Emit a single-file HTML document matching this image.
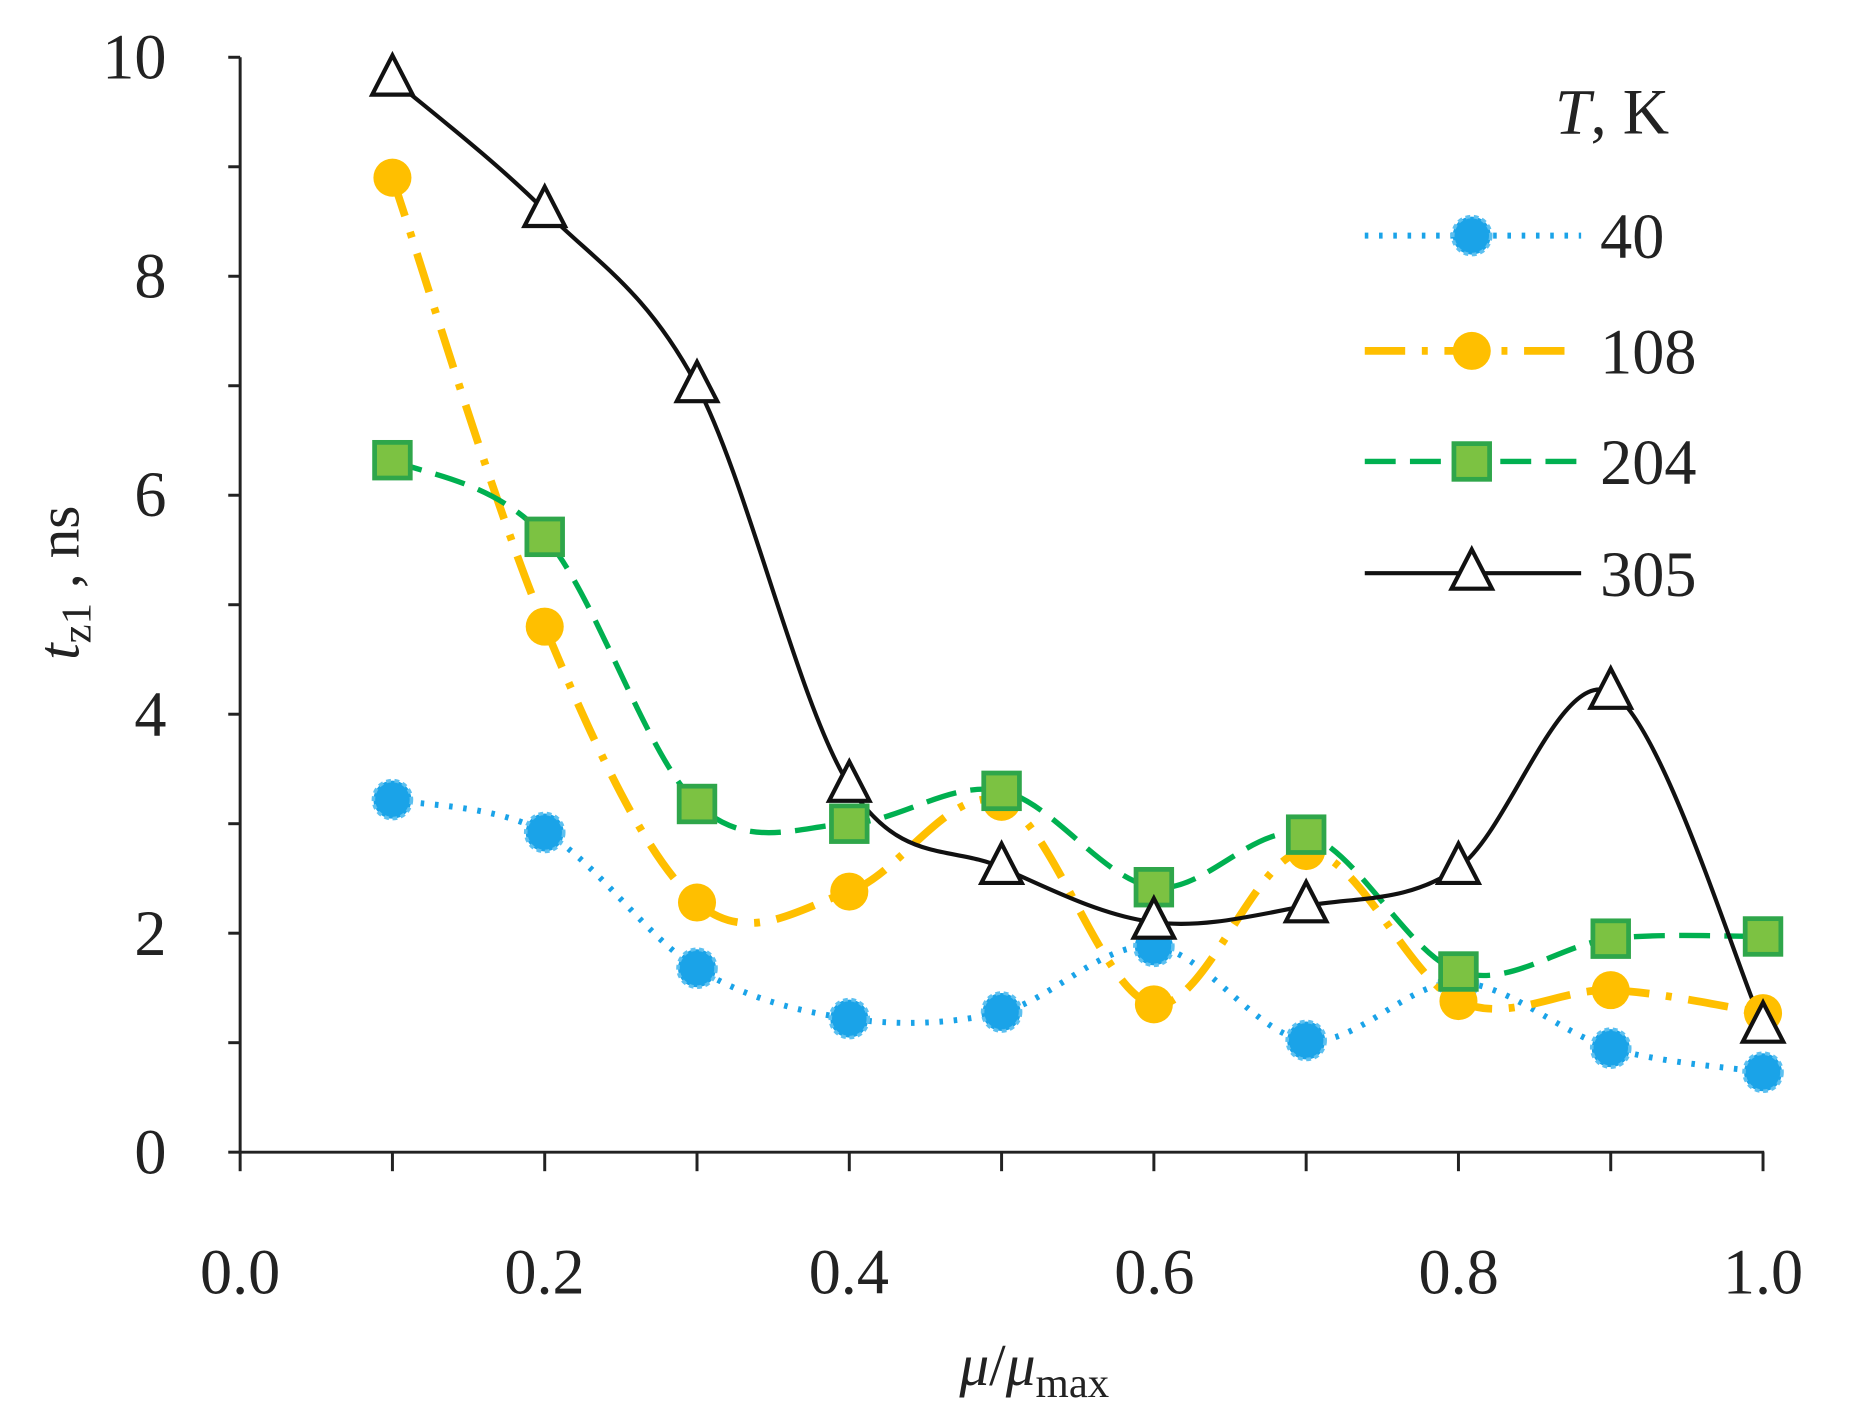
<!DOCTYPE html>
<html><head><meta charset="utf-8"><style>
html,body{margin:0;padding:0;background:#fff;}
svg{display:block;}
text{font-family:"Liberation Serif",serif;fill:#222;}
</style></head><body>
<svg id="s" width="1851" height="1427" viewBox="0 0 1557 1200" xmlns="http://www.w3.org/2000/svg">
<rect width="1557" height="1200" fill="#fff"/>
<g stroke="#222" stroke-width="2.5" fill="none">
<line x1="202" y1="48" x2="202" y2="969"/>
<line x1="202" y1="969" x2="1484" y2="969"/>
</g>
<g id="ticks" stroke="#222" stroke-width="2.5"></g>
<g font-size="54" text-anchor="end">
<text x="140" y="987">0</text>
<text x="140" y="803">2</text>
<text x="140" y="619">4</text>
<text x="140" y="434">6</text>
<text x="140" y="250">8</text>
<text x="140" y="66">10</text>
</g>
<g font-size="54" text-anchor="middle">
<text x="202" y="1088">0.0</text>
<text x="458" y="1088">0.2</text>
<text x="714" y="1088">0.4</text>
<text x="971" y="1088">0.6</text>
<text x="1227" y="1088">0.8</text>
<text x="1483" y="1088">1.0</text>
</g>
<text x="870" y="1165" font-size="50" text-anchor="middle"><tspan font-style="italic">μ</tspan>/<tspan font-style="italic">μ</tspan><tspan font-size="36" dy="10">max</tspan></text>
<text transform="translate(66,490) rotate(-90)" font-size="50" text-anchor="middle"><tspan font-style="italic">t</tspan><tspan font-size="36" dy="10">z1</tspan><tspan dy="-10"> , ns</tspan></text>
<g id="series"></g>
<g id="legend"></g>
<text x="1308" y="112" font-size="54"><tspan font-style="italic">T</tspan>, K</text>
<g font-size="54">
<text x="1346" y="217">40</text>
<text x="1346" y="314">108</text>
<text x="1346" y="407">204</text>
<text x="1346" y="501">305</text>
</g>
</svg>
<script>
var NS="http://www.w3.org/2000/svg";
function X(v){return 202+v*1281;}
function Y(v){return 969-v*92.1;}
function el(t,a,p){var e=document.createElementNS(NS,t);for(var k in a)e.setAttribute(k,a[k]);p.appendChild(e);return e;}
var tk=document.getElementById('ticks');
for(var i=0;i<=10;i++){el('line',{x1:192,x2:202,y1:Y(i),y2:Y(i)},tk);}
for(var i=0;i<=10;i++){el('line',{x1:X(i/10),x2:X(i/10),y1:969,y2:985},tk);}
var xs=[.1,.2,.3,.4,.5,.6,.7,.8,.9,1];
var S=[
{d:[3.22,2.92,1.68,1.22,1.28,1.88,1.02,1.55,0.95,0.73],c:"#1aa3e8",da:"3 9",w:5,m:"c",ly:198},
{d:[8.9,4.8,2.28,2.38,3.2,1.35,2.75,1.38,1.48,1.27],c:"#ffbf00",da:"34 14 5 14",w:6.5,m:"o",ly:295},
{d:[6.32,5.62,3.18,3.0,3.3,2.42,2.9,1.65,1.95,1.97],c:"#00b050",da:"26 12",w:4.5,m:"s",ly:388},
{d:[9.8,8.6,7.0,3.35,2.6,2.1,2.25,2.6,4.2,1.15],c:"#111",da:"",w:3.5,m:"t",ly:482}];
var sg=document.getElementById('series'),lg=document.getElementById('legend');
function marker(m,x,y,p){
 if(m=="c")el('circle',{cx:x,cy:y,r:16,fill:"#1aa3e8",stroke:"#5cc0f0","stroke-width":3,"stroke-dasharray":"4 3"},p);
 else if(m=="o")el('circle',{cx:x,cy:y,r:16,fill:"#ffbf00"},p);
 else if(m=="s")el('rect',{x:x-15,y:y-15,width:30,height:30,fill:"#7cc242",stroke:"#2fa64a","stroke-width":4},p);
 else el('path',{d:"M"+x+","+(y-20)+"L"+(x+17)+","+(y+13)+"L"+(x-17)+","+(y+13)+"Z",fill:"#fff",stroke:"#111","stroke-width":3.5},p);
}
S.forEach(function(s){
 var P=xs.map(function(x,i){return [X(x),Y(s.d[i])];});
 var d="M"+P[0][0]+","+P[0][1];
 for(var i=0;i<P.length-1;i++){
  var p0=P[Math.max(0,i-1)],p1=P[i],p2=P[i+1],p3=P[Math.min(P.length-1,i+2)];
  var c1=[p1[0]+(p2[0]-p0[0])/6,p1[1]+(p2[1]-p0[1])/6];
  var c2=[p2[0]-(p3[0]-p1[0])/6,p2[1]-(p3[1]-p1[1])/6];
  d+="C"+c1+" "+c2+" "+p2;
 }
 el('path',{d:d,fill:"none",stroke:s.c,"stroke-width":s.w,"stroke-dasharray":s.da},sg);
 el('line',{x1:1148,x2:1330,y1:s.ly,y2:s.ly,stroke:s.c,"stroke-width":s.w,"stroke-dasharray":s.da},lg);
 marker(s.m,1238,s.ly,lg);
 s.P=P;
});
S.forEach(function(s){s.P.forEach(function(p){marker(s.m,p[0],p[1],sg);});});
</script>
</body></html>
